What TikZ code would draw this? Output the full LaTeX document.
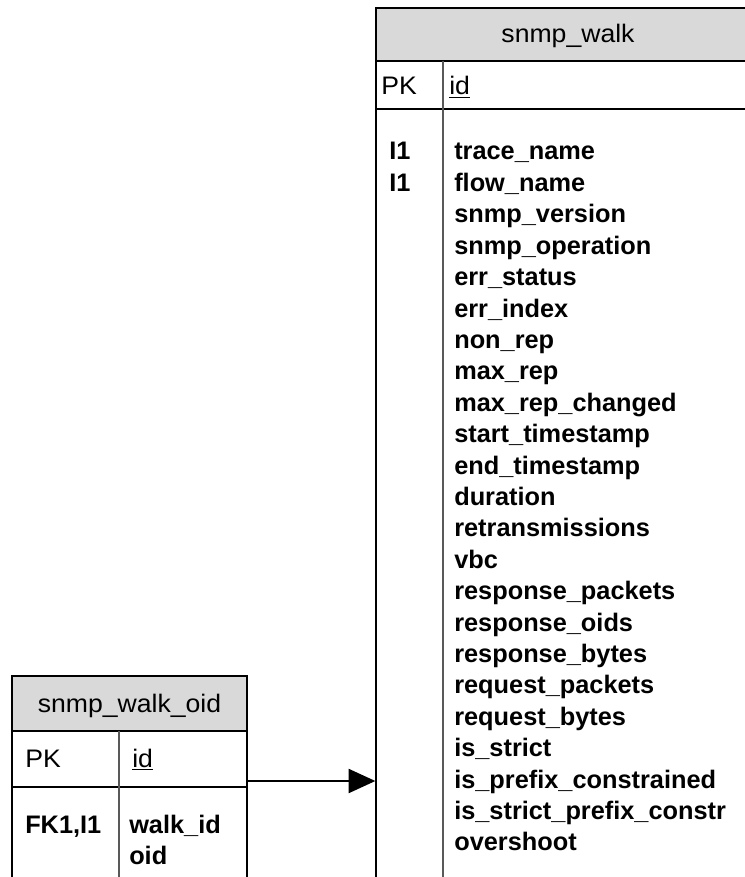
\documentclass[tikz,border=0pt]{standalone}
\usepackage{fontspec}
\setmainfont{Liberation Sans}
\usetikzlibrary{arrows.meta,positioning,fit}
\definecolor{headgray}{RGB}{217,217,217}
\newcommand{\wide}[1]{\scalebox{1.05}[1]{#1}}
\tikzset{
  tablebox/.style={
    rectangle,
    draw=black,
    line width=1pt,
    fill=white,
    inner sep=0pt
  },
  headbox/.style={
    tablebox,
    fill=headgray
  },
  rowline/.style={
    draw=black,
    line width=1pt
  },
  colline/.style={
    draw=black!65,
    line width=0.8pt
  },
  headtext/.style={
    anchor=base,
    inner sep=0pt,
    font=\fontsize{19}{23.5}\selectfont
  },
  plaintext/.style={
    anchor=base west,
    inner sep=0pt,
    font=\fontsize{19}{23.5}\selectfont
  },
  boldtext/.style={
    plaintext,
    font=\fontsize{19}{23.5}\selectfont\bfseries
  },
  fkarrow/.style={
    -{Triangle[length=20pt,width=18pt]},
    line width=1.5pt,
    draw=black
  }
}

\begin{document}
\begin{tikzpicture}[x=0.75pt, y=-0.75pt]
  \useasboundingbox (0,0) rectangle (745,877);
  \clip (0,0) rectangle (745,877);

  % snmp_walk
  \node[tablebox, fit={(376,8) (760,900)}] (walk) {};
  \node[headbox, fit={(376,8) (760,61)}] (walkhead) {};
  \draw[rowline] (376,109) -- (760,109);
  \draw[colline] (443,61) -- (443,900);
  \node[headtext] (walktitle) at (568,43) {\wide{snmp\_walk}};
  \node[plaintext] (walkpk) at (381,95) {\wide{PK}};
  \node[plaintext] (walkid) at (449,95) {\wide{\underline{id}}};
  \node[boldtext] (walkix1) at (389,160) {I1};
  \node[boldtext] (walkix2) at (389,191.4) {I1};
  \foreach \f [count=\i from 0] in {trace\_name, flow\_name, snmp\_version,
      snmp\_operation, err\_status, err\_index, non\_rep, max\_rep,
      max\_rep\_changed, start\_timestamp, end\_timestamp, duration,
      retransmissions, vbc, response\_packets, response\_oids,
      response\_bytes, request\_packets, request\_bytes, is\_strict,
      is\_prefix\_constrained, is\_strict\_prefix\_constr, overshoot}
    \node[boldtext] (walkcol\i) at (454,160+31.4*\i) {\f};

  % snmp_walk_oid
  \node[tablebox, fit={(12,676) (247,900)}] (walkoid) {};
  \node[headbox, fit={(12,676) (247,731)}] (walkoidhead) {};
  \draw[rowline] (12,787) -- (247,787);
  \draw[colline] (119,731) -- (119,900);
  \node[headtext] (walkoidtitle) at (129.5,712) {\wide{snmp\_walk\_oid}};
  \node[plaintext] (walkoidpk) at (25,767) {\wide{PK}};
  \node[plaintext] (walkoidid) at (132,767) {\wide{\underline{id}}};
  \node[boldtext] (walkoidfk) at (25,833) {FK1,I1};
  \node[boldtext] (walkoidwalk) at (129,833) {walk\_id};
  \node[boldtext] (walkoidoid) at (129,864) {oid};

  \coordinate (fkstart) at (247,781);
  \draw[fkarrow] (fkstart) -- (fkstart -| walk.west);
\end{tikzpicture}
\end{document}
